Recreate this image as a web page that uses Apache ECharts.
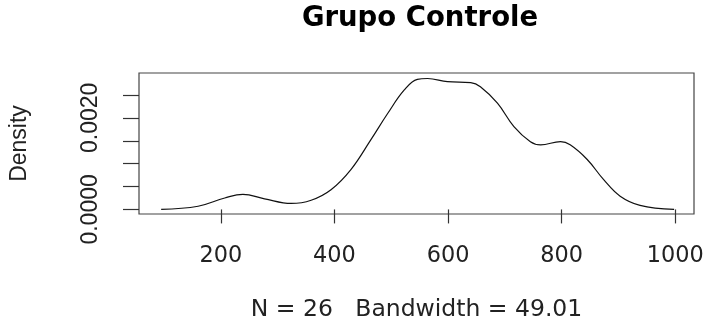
<!DOCTYPE html>
<html>
<head>
<meta charset="utf-8">
<script src="https://cdn.jsdelivr.net/npm/echarts@6/dist/echarts.min.js"></script>
<style>
  html, body { margin: 0; padding: 0; background: #fff; }
  #main { width: 709px; height: 326px; }
</style>
</head>
<body>
<div id="main"></div>
<script>
// density estimate
var xs = [95, 160, 207, 239, 277, 324, 359, 394, 429, 464, 494, 523, 546, 564,
          599, 640, 657, 687, 716, 745, 763, 798, 815, 845, 874, 903, 938, 998];
var ys = [0.00000, 0.00007, 0.00025, 0.00033, 0.00023, 0.00013, 0.00020, 0.00043,
          0.00087, 0.00152, 0.00210, 0.00261, 0.00284, 0.00286, 0.00279, 0.00277,
          0.00268, 0.00232, 0.00181, 0.00148, 0.00141, 0.00148, 0.00141, 0.00109,
          0.00065, 0.00029, 0.00009, 0.00000];
var xTicks = [200, 400, 600, 800, 1000];
var yTicks = [0, 0.0005, 0.001, 0.0015, 0.002, 0.0025];
var yLabels = [0, 0.002];

var wideFont = '"DejaVu Sans", sans-serif';
var narrowFont = '"Liberation Sans", Arial, sans-serif';
var chart = echarts.init(document.getElementById('main'));
chart.setOption({
  animation: false,
  title: {
    text: 'Grupo Controle',
    left: 415, top: 0, textAlign: 'center',
    textStyle: { fontFamily: wideFont, fontSize: 27.5, fontWeight: 'bold', color: '#000' }
  },
  grid: {
    left: 137, right: 15, top: 73, bottom: 112,
    show: true, borderColor: '#444', borderWidth: 1.2
  },
  xAxis: {
    type: 'value', min: 56, max: 1033,
    name: 'N = 26   Bandwidth = 49.01',
    nameLocation: 'middle', nameGap: 84,
    nameTextStyle: { fontFamily: wideFont, fontSize: 23.5, color: '#222' },
    splitLine: { show: false },
    axisLine: { show: false },
    axisTick: { show: true, length: 14, lineStyle: { color: '#333', width: 1.2 }, customValues: xTicks },
    axisLabel: {
      margin: 31, fontFamily: wideFont, fontSize: 22.4, color: '#222',
      customValues: xTicks,
      formatter: function (v) { return String(v); }
    }
  },
  yAxis: {
    type: 'value', min: -0.0001, max: 0.00298,
    name: 'Density',
    nameLocation: 'middle', nameGap: 108, nameRotate: 90,
    nameTextStyle: { fontFamily: narrowFont, fontSize: 23, color: '#222' },
    splitLine: { show: false },
    axisLine: { show: false },
    axisTick: { show: true, length: 16, lineStyle: { color: '#333', width: 1.2 }, customValues: yTicks },
    axisLabel: {
      rotate: 90, margin: 37, fontFamily: narrowFont, fontSize: 23, color: '#222',
      customValues: yLabels,
      formatter: function (v) { return v.toFixed(4); }
    }
  },
  series: [{
    type: 'line',
    data: xs.map(function (x, i) { return [x, ys[i]]; }),
    smooth: 0.4,
    symbol: 'none',
    lineStyle: { color: '#111', width: 1.2 }
  }]
});
</script>
</body>
</html>
